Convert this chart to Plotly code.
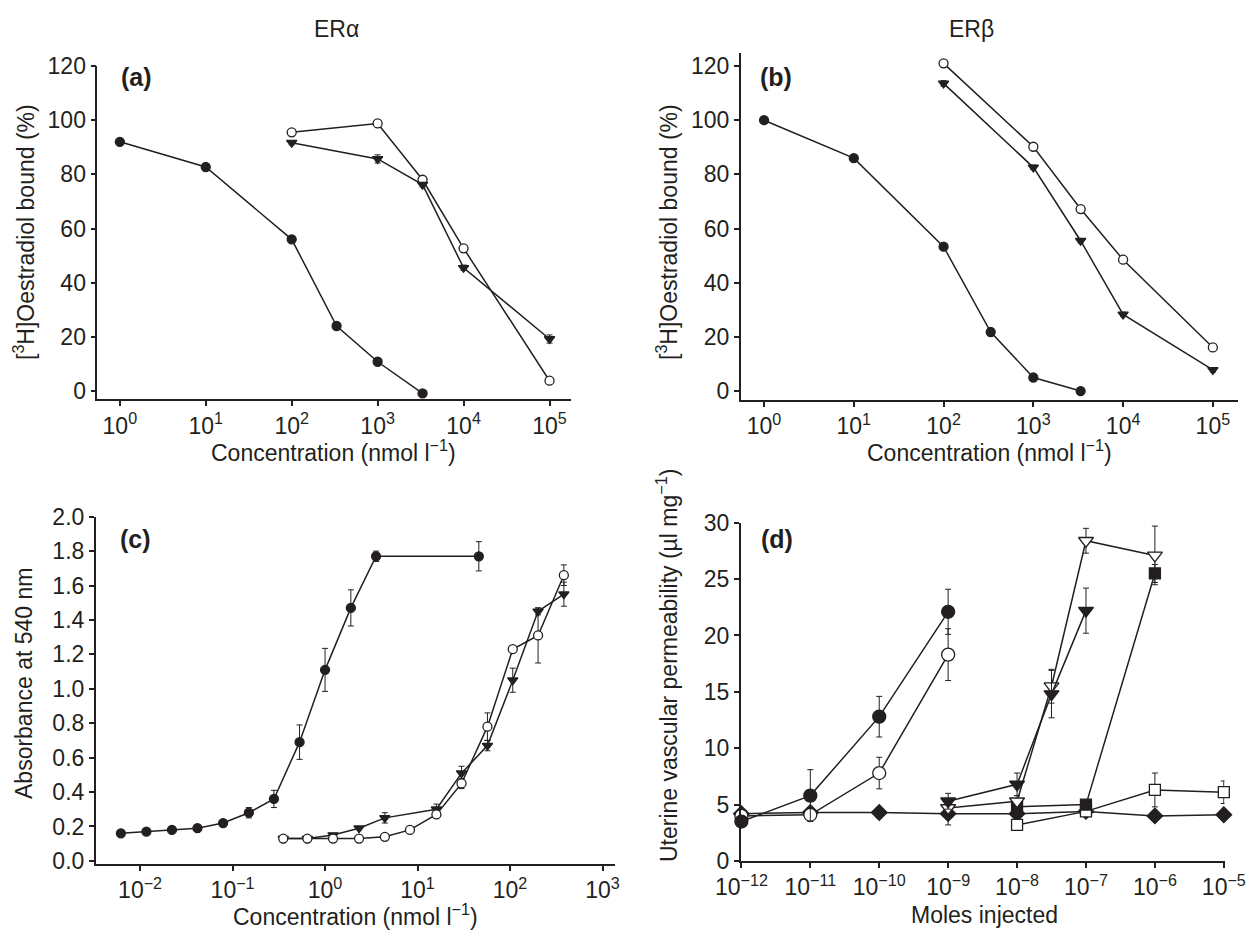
import plotly.graph_objects as go

W, H = 1249, 930
INK = '#231f20'
FONT = 'Liberation Sans, Arial, Helvetica, sans-serif'
FS = 23

# ---------------- data ----------------
# (a) ERalpha binding
a_x_full = [1, 10, 100, 333, 1000, 3333]
a_y_full = [92, 82.7, 56, 24, 10.8, -0.9]
a_x_open = [100, 1000, 3333, 10000, 100000]
a_y_open = [95.5, 98.8, 78, 52.7, 3.8]
a_x_tri = [100, 1000, 3333, 10000, 100000]
a_y_tri = [91.7, 85.7, 76.2, 45.5, 19.2]
a_e_tri = [0.8, 1.5, 0.8, 1.0, 1.5]

# (b) ERbeta binding
b_x_full = [1, 10, 100, 335, 1000, 3365]
b_y_full = [100, 86, 53.3, 21.8, 5, 0]
b_x_open = [100, 1000, 3365, 10000, 100000]
b_y_open = [121, 90.2, 67.2, 48.5, 16.1]
b_x_tri = [100, 1000, 3365, 10000, 100000]
b_y_tri = [113.6, 82.6, 55.5, 28.3, 7.8]
b_e_tri = [1.0, 0.8, 0.8, 0.8, 0.8]

# (c) absorbance
c_x_full = [0.0062, 0.0117, 0.0221, 0.0417, 0.079, 0.15, 0.28, 0.53, 1.0, 1.9, 3.56, 46]
c_y_full = [0.16, 0.17, 0.18, 0.19, 0.22, 0.28, 0.36, 0.69, 1.11, 1.47, 1.77, 1.77]
c_e_full = [0, 0, 0, 0, 0.01, 0.03, 0.05, 0.10, 0.125, 0.105, 0.03, 0.085]
c_x_open = [0.353, 0.644, 1.22, 2.33, 4.43, 8.28, 16.0, 29.9, 57.0, 107, 201, 382]
c_y_open = [0.13, 0.13, 0.13, 0.13, 0.14, 0.18, 0.27, 0.45, 0.78, 1.23, 1.31, 1.66]
c_e_open = [0, 0, 0, 0, 0, 0, 0.02, 0.03, 0.08, 0, 0.16, 0.06]
c_x_tri = [0.353, 0.644, 1.22, 2.33, 4.43, 16.0, 29.9, 57.0, 107, 201, 382]
c_y_tri = [0.13, 0.13, 0.15, 0.19, 0.25, 0.30, 0.51, 0.67, 1.05, 1.45, 1.55]
c_e_tri = [0, 0, 0, 0, 0.03, 0.03, 0.04, 0.03, 0.07, 0.02, 0.07]

# (d) uterine vascular permeability
d_x_fc = [1e-12, 1e-11, 1e-10, 1e-9]
d_y_fc = [3.5, 5.8, 12.8, 22.1]
d_e_fc = [0.4, 2.3, 1.8, 2.0]
d_x_oc = [1e-12, 1e-11, 1e-10, 1e-9]
d_y_oc = [4.0, 4.1, 7.8, 18.3]
d_e_oc = [0.2, 0.3, 1.4, 2.3]
d_x_ft = [1e-9, 1e-8, 3.16e-8, 1e-7]
d_y_ft = [5.3, 6.8, 14.8, 22.2]
d_e_ft = [0.7, 1.0, 2.1, 2.0]
d_x_ot = [1e-9, 1e-8, 3.16e-8, 1e-7, 1e-6]
d_y_ot = [4.7, 5.3, 15.5, 28.4, 27.1]
d_e_ot = [0.3, 0.5, 1.5, 1.1, 2.6]
d_x_fs = [1e-8, 1e-7, 1e-6]
d_y_fs = [4.8, 5.0, 25.5]
d_e_fs = [0.5, 0.3, 0.8]
d_x_os = [1e-8, 1e-7, 1e-6, 1e-5]
d_y_os = [3.2, 4.4, 6.3, 6.1]
d_e_os = [0.3, 0.3, 1.5, 1.0]
d_x_fd = [1e-12, 1e-11, 1e-10, 1e-9, 1e-8, 1e-7, 1e-6, 1e-5]
d_y_fd = [4.2, 4.3, 4.3, 4.2, 4.2, 4.4, 4.0, 4.1]
d_e_fd = [0.3, 0.3, 0.2, 1.0, 0.5, 0.3, 0.3, 0.2]

ab_ticks = [1, 10, 100, 1000, 10000, 100000]
ab_ticktext = ['10<sup>0</sup>', '10<sup>1</sup>', '10<sup>2</sup>', '10<sup>3</sup>',
               '10<sup>4</sup>', '10<sup>5</sup>']
c_ticks = [0.01, 0.1, 1, 10, 100, 1000]
c_ticktext = ['10<sup>\u22122</sup>', '10<sup>\u22121</sup>', '10<sup>0</sup>',
              '10<sup>1</sup>', '10<sup>2</sup>', '10<sup>3</sup>']
d_ticks = [1e-12, 1e-11, 1e-10, 1e-9, 1e-8, 1e-7, 1e-6, 1e-5]
d_ticktext = ['10<sup>\u2212%d</sup>' % n for n in (12, 11, 10, 9, 8, 7, 6, 5)]

# ---------------- helpers ----------------
def dx(x0, x1):
    return [x0 / W, x1 / W]

def dy(top, bottom):
    return [1 - bottom / H, 1 - top / H]

fig = go.Figure()

def add(x, y, ax, symbol, filled, size, err=None, errminus=None):
    marker = dict(symbol=symbol, size=size,
                  color=INK if filled else 'white',
                  line=dict(color=INK, width=1.3))
    kw = {}
    if err is not None:
        kw['error_y'] = dict(type='data', array=err,
                             arrayminus=errminus if errminus is not None else err,
                             color=INK, thickness=1, width=3, visible=True)
    fig.add_trace(go.Scatter(x=x, y=y, mode='lines+markers',
                             xaxis='x' + ax, yaxis='y' + ax,
                             line=dict(color=INK, width=1.5),
                             marker=marker, cliponaxis=False,
                             showlegend=False, **kw))

# (a)
add(a_x_full, a_y_full, '', 'circle', True, 9)
add(a_x_open, a_y_open, '', 'circle', False, 9)
add(a_x_tri, a_y_tri, '', 'triangle-down', True, 9, a_e_tri)
# (b)
add(b_x_full, b_y_full, '2', 'circle', True, 9)
add(b_x_open, b_y_open, '2', 'circle', False, 9)
add(b_x_tri, b_y_tri, '2', 'triangle-down', True, 9, b_e_tri)
# (c)
add(c_x_full, c_y_full, '3', 'circle', True, 9, c_e_full)
add(c_x_tri, c_y_tri, '3', 'triangle-down', True, 9, c_e_tri)
add(c_x_open, c_y_open, '3', 'circle', False, 9, c_e_open)
# (d)
add(d_x_fd, d_y_fd, '4', 'diamond', True, 12, d_e_fd)
add(d_x_os, d_y_os, '4', 'square', False, 11, d_e_os)
add(d_x_fs, d_y_fs, '4', 'square', True, 11, d_e_fs)
add(d_x_ot, d_y_ot, '4', 'triangle-down', False, 13, d_e_ot)
add(d_x_ft, d_y_ft, '4', 'triangle-down', True, 13, d_e_ft)
add(d_x_oc, d_y_oc, '4', 'circle', False, 13, d_e_oc)
add(d_x_fc, d_y_fc, '4', 'circle', True, 13, d_e_fc)

axis_common = dict(showline=True, linewidth=1.5, linecolor=INK, ticks='outside',
                   ticklen=5, tickwidth=1.5, tickcolor=INK, showgrid=False,
                   zeroline=False, automargin=False,
                   tickfont=dict(family=FONT, size=FS, color=INK))

fig.update_layout(
    template='none',
    width=W, height=H, margin=dict(l=0, r=0, t=0, b=0, pad=0),
    paper_bgcolor='white', plot_bgcolor='white',
    font=dict(family=FONT, size=FS, color=INK),
    xaxis=dict(axis_common, type='log', domain=dx(97.3, 571), range=[-0.262, 5.25],
               tickvals=ab_ticks, ticktext=ab_ticktext, anchor='y'),
    yaxis=dict(axis_common, domain=dy(66, 399.3), range=[-3.06, 120],
               tickvals=[0, 20, 40, 60, 80, 100, 120], anchor='x'),
    xaxis2=dict(axis_common, type='log', domain=dx(740.7, 1238), range=[-0.26, 5.28],
                tickvals=ab_ticks, ticktext=ab_ticktext, anchor='y2'),
    yaxis2=dict(axis_common, domain=dy(52.5, 400), range=[-3.3, 125],
                tickvals=[0, 20, 40, 60, 80, 100, 120], anchor='x2'),
    xaxis3=dict(axis_common, type='log', domain=dx(95.7, 615), range=[-2.48, 3.135],
                tickvals=c_ticks, ticktext=c_ticktext, anchor='y3'),
    yaxis3=dict(axis_common, domain=dy(516.7, 864), range=[-0.018, 2.0],
                tickvals=[0, 0.2, 0.4, 0.6, 0.8, 1.0, 1.2, 1.4, 1.6, 1.8, 2.0],
                tickformat='.1f', anchor='x3'),
    xaxis4=dict(axis_common, type='log', domain=dx(740.7, 1224.5), range=[-12.01, -4.99],
                tickvals=d_ticks, ticktext=d_ticktext, anchor='y4'),
    yaxis4=dict(axis_common, domain=dy(522.7, 861), range=[0, 30],
                tickvals=[0, 5, 10, 15, 20, 25, 30], anchor='x4'),
)

def ann(text, x, y, size=FS, bold=False, angle=0):
    fig.add_annotation(text=('<b>%s</b>' % text) if bold else text,
                       x=x / W, y=1 - y / H, xref='paper', yref='paper',
                       showarrow=False, textangle=angle,
                       font=dict(family=FONT, size=size, color=INK),
                       xanchor='center', yanchor='middle')

ann('ER\u03b1', 336, 29)
ann('ER\u03b2', 971, 29)
ann('(a)', 136, 77, size=25, bold=True)
ann('(b)', 776, 77, size=25, bold=True)
ann('(c)', 135, 539, size=25, bold=True)
ann('(d)', 777, 539, size=25, bold=True)
ann('Concentration (nmol l<sup>\u22121</sup>)', 334, 451)
ann('Concentration (nmol l<sup>\u22121</sup>)', 989, 451)
ann('Concentration (nmol l<sup>\u22121</sup>)', 355, 915)
ann('Moles injected', 984, 915)
ann('[<sup>3</sup>H]Oestradiol bound (%)', 24, 232, angle=-90)
ann('[<sup>3</sup>H]Oestradiol bound (%)', 667, 232, angle=-90)
ann('Absorbance at 540 nm', 24, 684, angle=-90)
ann('Uterine vascular permeability (\u00b5l mg<sup>\u22121</sup>)', 667, 666, angle=-90)

fig.write_html('out.html', config={'displayModeBar': False},
               post_script="document.body.style.margin='0';")
